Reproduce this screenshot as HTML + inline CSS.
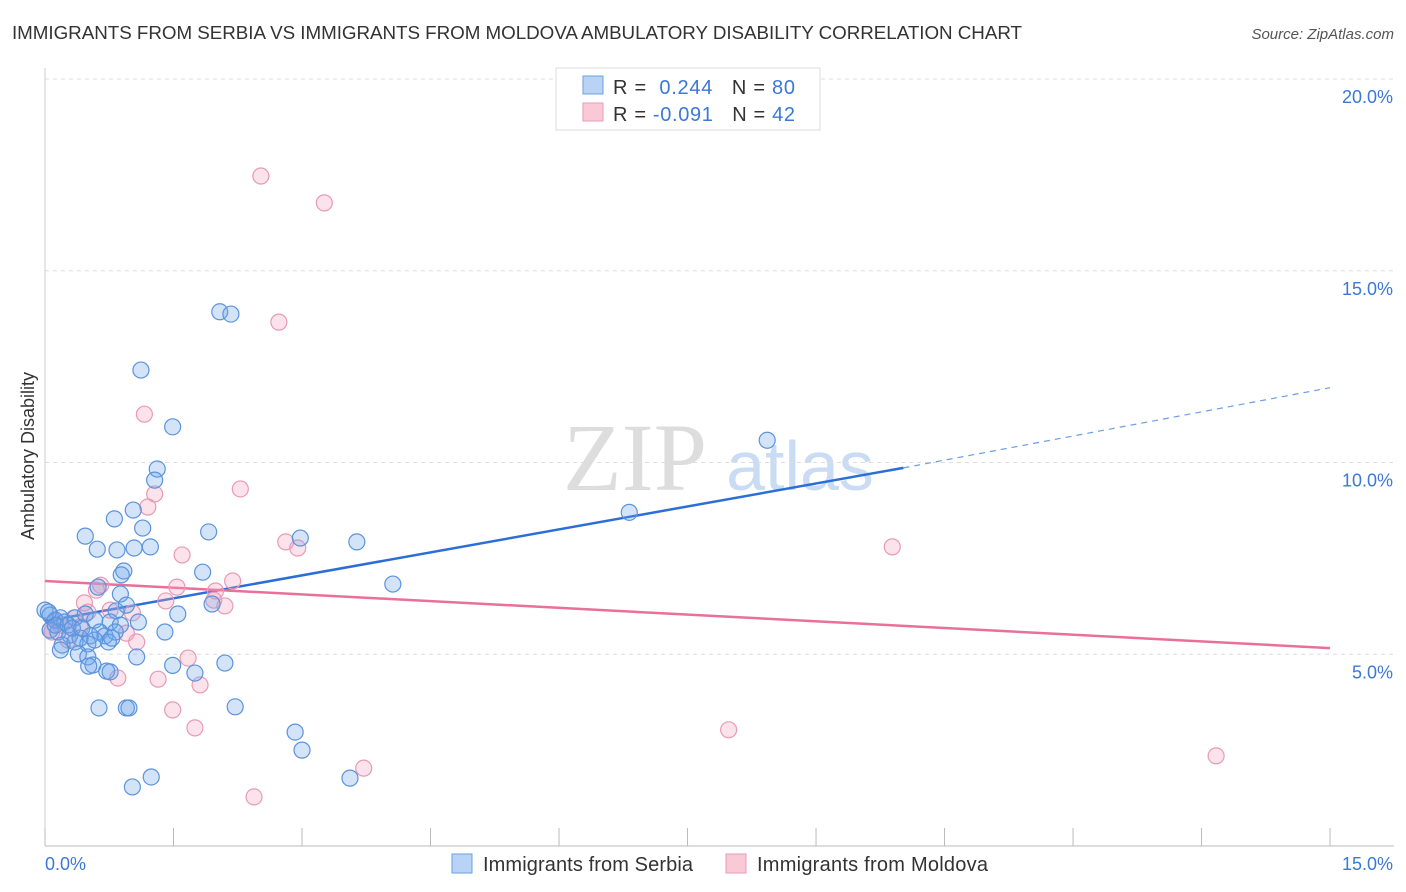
<!DOCTYPE html>
<html><head><meta charset="utf-8"><style>
body{margin:0;background:#fff;font-family:"Liberation Sans",sans-serif;}
svg{display:block}
</style></head><body>
<svg width="1406" height="892" xmlns="http://www.w3.org/2000/svg" font-family="Liberation Sans, sans-serif">
<text x="12" y="39" font-size="18.8" fill="#333" textLength="1010">IMMIGRANTS FROM SERBIA VS IMMIGRANTS FROM MOLDOVA AMBULATORY DISABILITY CORRELATION CHART</text>
<text x="1394" y="39" font-size="15" fill="#555" font-style="italic" text-anchor="end">Source: ZipAtlas.com</text>
<g>
<text x="635" y="490" font-size="96" fill="#ddd" font-family="Liberation Serif, serif" text-anchor="middle">ZIP</text>
<text x="800" y="490" font-size="70" fill="#c9dcf3" text-anchor="middle">atlas</text>
</g>
<g id="grid"></g>
<g id="axes"></g>
<g id="trends"></g>
<g id="pts"></g>
<text transform="translate(34,456) rotate(-90)" font-size="18" fill="#333" text-anchor="middle">Ambulatory Disability</text>
<text x="45" y="870" font-size="18" fill="#3b78d8">0.0%</text>
<text x="1393" y="870" font-size="18" fill="#3b78d8" text-anchor="end">15.0%</text>
<g>
<rect x="556" y="68" width="264" height="62" fill="#fff" stroke="#ddd"/>
<rect x="583" y="76" width="20" height="18" fill="#b8d3f5" stroke="#6a9fe0"/>
<rect x="583" y="103" width="20" height="18" fill="#f9c9d8" stroke="#e89ab5"/>
<text x="613" y="94" font-size="20" fill="#333" textLength="182">R = <tspan fill="#3b78d8">&#160;0.244</tspan>&#160;&#160;&#160;N = <tspan fill="#3b78d8">80</tspan></text>
<text x="613" y="121" font-size="20" fill="#333" textLength="182">R = <tspan fill="#3b78d8">-0.091</tspan>&#160;&#160;&#160;N = <tspan fill="#3b78d8">42</tspan></text>
</g>
<g>
<rect x="452" y="854" width="20" height="19" fill="#b8d3f5" stroke="#6a9fe0"/>
<text x="483" y="871" font-size="20" fill="#333" textLength="210">Immigrants from Serbia</text>
<rect x="726" y="854" width="20" height="19" fill="#f9c9d8" stroke="#e89ab5"/>
<text x="757" y="871" font-size="20" fill="#333" textLength="231">Immigrants from Moldova</text>
</g>
</svg>
<script>
const yTicks=[5,10,15,20];
const yTickLabels=["5.0%","10.0%","15.0%","20.0%"];
const xTicks=[0,1.5,3,4.5,6,7.5,9,10.5,12,13.5,15];
const serbiaX=[2.04,2.17,1.12,1.49,1.31,1.28,8.43,6.82,1.03,0.81,1.14,1.91,0.47,0.61,0.84,1.04,1.23,2.98,3.64,0.92,0.89,1.84,4.06,0.62,0.88,0.95,0.83,1.95,1.55,0.00,0.06,0.12,0.18,0.23,0.35,0.47,0.58,0.76,1.09,0.88,0.06,0.15,0.29,0.41,0.53,0.64,0.70,0.82,1.40,0.20,0.35,0.50,0.74,0.39,0.50,0.56,1.07,0.72,0.51,0.76,1.49,1.75,2.10,0.63,0.95,0.98,2.22,2.92,3.00,1.24,3.56,1.02,0.12,0.27,0.04,0.32,0.43,0.58,0.78,0.18];
const serbiaY=[13.93,13.87,12.41,10.93,9.83,9.54,10.58,8.70,8.76,8.53,8.29,8.19,8.08,7.74,7.72,7.77,7.80,8.03,7.93,7.17,7.07,7.14,6.83,6.75,6.57,6.28,6.13,6.31,6.05,6.15,6.02,5.89,5.95,5.84,5.95,6.05,5.89,5.84,5.84,5.76,5.63,5.58,5.50,5.42,5.48,5.58,5.48,5.58,5.58,5.24,5.32,5.27,5.32,5.01,4.93,4.72,4.93,4.56,4.69,4.54,4.71,4.51,4.77,3.60,3.60,3.60,3.63,2.97,2.50,1.80,1.77,1.54,5.76,5.76,6.10,5.68,5.68,5.37,5.42,5.11];
const moldovaX=[2.52,3.26,2.73,1.16,1.28,2.28,1.20,9.89,2.81,2.95,1.60,2.19,1.54,0.65,0.60,1.41,1.97,2.10,1.99,0.46,0.50,0.76,1.02,0.34,0.18,0.08,0.12,0.95,1.07,0.27,0.85,1.32,1.67,1.49,1.81,1.75,7.98,3.72,2.44,13.67,0.06,0.41];
const moldovaY=[17.47,16.77,13.66,11.26,9.18,9.31,8.84,7.80,7.93,7.77,7.59,6.91,6.75,6.80,6.67,6.39,6.41,6.26,6.65,6.34,6.10,6.15,6.08,5.95,5.76,5.58,5.89,5.55,5.32,5.37,4.38,4.35,4.90,3.55,4.20,3.08,3.03,2.03,1.28,2.35,5.63,5.71];
const serbiaTrend=[[0,5.86],[10.02,9.86],[15,11.95]];
const moldovaTrend=[[0,6.91],[15,5.16]];
const NS="http://www.w3.org/2000/svg";
const X=v=>45+v*85.67, Y=v=>846-v*38.35;
function mk(t,a,p){const e=document.createElementNS(NS,t);for(const k in a)e.setAttribute(k,a[k]);p.appendChild(e);return e;}
const grid=document.getElementById('grid'),axes=document.getElementById('axes'),tr=document.getElementById('trends'),pts=document.getElementById('pts');
yTicks.forEach((v,i)=>{
 const l=mk('line',{x1:45,x2:1394,y1:Y(v),y2:Y(v),stroke:'#ddd','stroke-dasharray':'4,4'},grid);
 
 
 const t=mk('text',{x:1393,y:Y(v)+24,'font-size':18,fill:'#3b78d8','text-anchor':'end'},grid);
 t.textContent=yTickLabels[i];
 
 
});
const ax=mk('line',{x1:45,x2:1394,y1:846,y2:846,stroke:'#bbb'},axes);


const ay=mk('line',{x1:45,x2:45,y1:68,y2:846,stroke:'#ccc'},axes);


xTicks.forEach(v=>{
 const t=mk('line',{x1:X(v),x2:X(v),y1:828,y2:846,stroke:'#bbb'},axes);
 
 
});
const s1=mk('line',{x1:X(serbiaTrend[0][0]),y1:Y(serbiaTrend[0][1]),x2:X(serbiaTrend[1][0]),y2:Y(serbiaTrend[1][1]),stroke:'#2b6fd6','stroke-width':2.5},tr);


const s2=mk('line',{x1:X(serbiaTrend[1][0]),y1:Y(serbiaTrend[1][1]),x2:X(serbiaTrend[2][0]),y2:Y(serbiaTrend[2][1]),stroke:'#6a9fe0','stroke-width':1.2,'stroke-dasharray':'6,5'},tr);


const m1=mk('line',{x1:X(moldovaTrend[0][0]),y1:Y(moldovaTrend[0][1]),x2:X(moldovaTrend[1][0]),y2:Y(moldovaTrend[1][1]),stroke:'#e8709a','stroke-width':2.5},tr);


moldovaX.forEach((v,i)=>{
 const c=mk('circle',{cx:X(v),cy:Y(moldovaY[i]),r:8,fill:'rgba(244,160,190,0.3)',stroke:'#e89ab5','stroke-width':1.2},pts);
 
 
});
serbiaX.forEach((v,i)=>{
 const c=mk('circle',{cx:X(v),cy:Y(serbiaY[i]),r:8,fill:'rgba(110,165,235,0.3)',stroke:'#5b93dd','stroke-width':1.2},pts);
 
 
});
</script>
</body></html>
